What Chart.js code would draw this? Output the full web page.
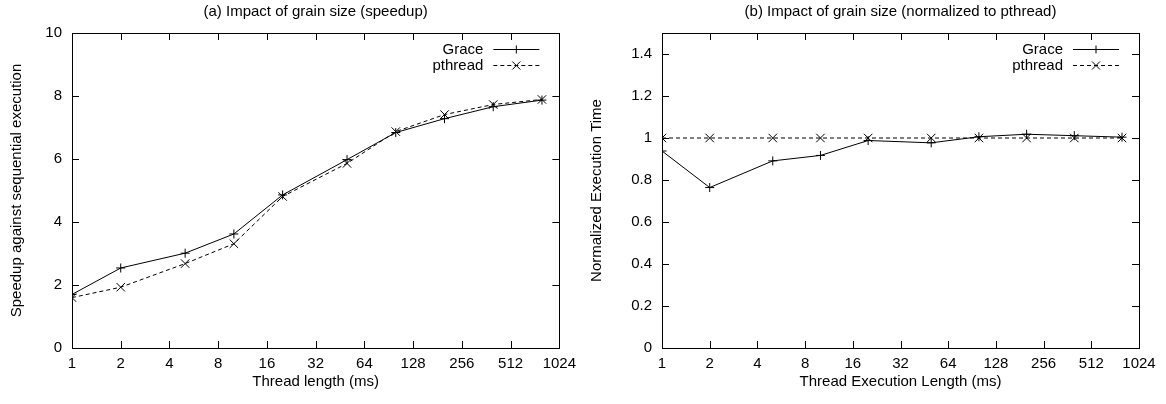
<!DOCTYPE html>
<html>
<head>
<meta charset="utf-8">
<script src="https://cdn.jsdelivr.net/npm/chart.js@4.4.0/dist/chart.umd.min.js"></script>
<style>
  html, body { margin: 0; padding: 0; background: #fff; }
  .wrap { display: flex; width: 1166px; height: 404px; }
  .box { position: relative; width: 583px; height: 404px; }
</style>
</head>
<body>
<div class="wrap">
  <div class="box"><canvas id="chart_speedup"></canvas></div>
  <div class="box"><canvas id="chart_norm"></canvas></div>
</div>
<script>
// データ
const threadLength = [1, 2, 5, 10, 20, 50, 100, 200, 400, 800];
const xTicks = [1, 2, 4, 8, 16, 32, 64, 128, 256, 512, 1024];

const speedupGrace   = [1.70, 2.54, 3.01, 3.62, 4.86, 5.98, 6.84, 7.28, 7.66, 7.87];
const speedupPthread = [1.60, 1.93, 2.68, 3.31, 4.81, 5.86, 6.87, 7.41, 7.73, 7.89];

const normGrace   = [0.938, 0.764, 0.891, 0.917, 0.988, 0.977, 1.006, 1.018, 1.011, 1.004];
const normPthread = [1, 1, 1, 1, 1, 1, 1, 1, 1, 1];

const speedupTicks = [0, 2, 4, 6, 8, 10];
const normTicks = [0, 0.2, 0.4, 0.6, 0.8, 1, 1.2, 1.4];

const FONT = "'Liberation Sans', Arial, Helvetica, sans-serif";
Chart.defaults.font.family = FONT;
Chart.defaults.font.size = 15;
Chart.defaults.color = '#000';

function pts(ys) {
    return threadLength.map((x, i) => ({x: x, y: ys[i]}));
}

// gnuplot風の枠・内向き目盛・凡例・タイトル
function gnuplotFrame(title) {
    return {
        id: 'gnuplotFrame',
        afterDraw(chart) {
            const ctx = chart.ctx;
            const a = chart.chartArea;
            const sx = chart.scales.x, sy = chart.scales.y;
            const tl = 7;
            ctx.save();
            ctx.strokeStyle = '#000';
            ctx.lineWidth = 1;
            ctx.beginPath();
            sx.ticks.forEach(t => {
                const px = Math.round(sx.getPixelForValue(t.value)) + 0.5;
                if (px <= a.left + 1 || px >= a.right - 1) return;
                ctx.moveTo(px, a.bottom); ctx.lineTo(px, a.bottom - tl);
                ctx.moveTo(px, a.top); ctx.lineTo(px, a.top + tl);
            });
            sy.ticks.forEach(t => {
                const py = Math.round(sy.getPixelForValue(t.value)) + 0.5;
                if (py <= a.top + 1 || py >= a.bottom - 1) return;
                ctx.moveTo(a.left, py); ctx.lineTo(a.left + tl, py);
                ctx.moveTo(a.right, py); ctx.lineTo(a.right - tl, py);
            });
            ctx.stroke();
            ctx.strokeRect(Math.round(a.left) + 0.5, Math.round(a.top) + 0.5,
                Math.round(a.right - a.left), Math.round(a.bottom - a.top));

            // タイトル
            ctx.font = '15px ' + FONT;
            ctx.fillStyle = '#000';
            ctx.textAlign = 'center';
            ctx.textBaseline = 'middle';
            ctx.fillText(title, (a.left + a.right) / 2, 12);

            // 凡例
            chart.data.datasets.forEach((ds, i) => {
                const y = Math.round(a.top + 16 + i * 16) + 0.5;
                ctx.textAlign = 'right';
                ctx.fillText(ds.label, a.right - 76, y);
                const x0 = a.right - 66, x1 = a.right - 20, xm = (x0 + x1) / 2;
                ctx.setLineDash(ds.borderDash || []);
                ctx.beginPath();
                ctx.moveTo(x0, y); ctx.lineTo(x1, y);
                ctx.stroke();
                ctx.setLineDash([]);
                ctx.beginPath();
                if (ds.pointStyle === 'cross') {
                    ctx.moveTo(xm - 4, y); ctx.lineTo(xm + 4, y);
                    ctx.moveTo(xm, y - 4); ctx.lineTo(xm, y + 4);
                } else {
                    ctx.moveTo(xm - 4, y - 4); ctx.lineTo(xm + 4, y + 4);
                    ctx.moveTo(xm - 4, y + 4); ctx.lineTo(xm + 4, y - 4);
                }
                ctx.stroke();
            });
            ctx.restore();
        }
    };
}

function makeChart(canvasId, opt) {
    const ctx = document.getElementById(canvasId);
    return new Chart(ctx, {
        type: 'line',
        data: {
            datasets: [
                {
                    label: 'Grace',
                    data: pts(opt.grace),
                    borderColor: '#000',
                    borderWidth: 1,
                    pointStyle: 'cross',
                    pointRadius: 4.5,
                    pointBorderColor: '#000',
                    pointBorderWidth: 1,
                    fill: false,
                    tension: 0
                }, {
                    label: 'pthread',
                    data: pts(opt.pthread),
                    borderColor: '#000',
                    borderWidth: 1,
                    borderDash: [4, 3],
                    pointStyle: 'crossRot',
                    pointRadius: 6,
                    pointBorderColor: '#000',
                    pointBorderWidth: 1,
                    fill: false,
                    tension: 0
                }
            ]
        },
        options: {
            responsive: false,
            animation: false,
            layout: {
                padding: { top: 33, right: opt.padRight, bottom: 0, left: 0 }
            },
            plugins: {
                legend: { display: false },
                tooltip: { enabled: false },
                title: { display: false }
            },
            scales: {
                x: {
                    type: 'logarithmic',
                    min: 1,
                    max: 1024,
                    afterBuildTicks(scale) {
                        scale.ticks = xTicks.map(v => ({value: v}));
                    },
                    afterFit(scale) { scale.height = 56; },
                    grid: { display: false, drawTicks: false },
                    border: { display: false },
                    ticks: {
                        autoSkip: false,
                        maxRotation: 0,
                        padding: 7,
                        callback: (v) => String(v)
                    },
                    title: {
                        display: true,
                        text: opt.xTitle,
                        padding: { top: 0, bottom: 13 }
                    }
                },
                y: {
                    min: opt.yMin,
                    max: opt.yMax,
                    afterBuildTicks(scale) {
                        scale.ticks = opt.yTicks.map(v => ({value: v}));
                    },
                    afterFit(scale) { scale.width = opt.yWidth; },
                    grid: { display: false, drawTicks: false },
                    border: { display: false },
                    ticks: {
                        padding: 10,
                        callback: (v) => String(v)
                    },
                    title: {
                        display: true,
                        text: opt.yTitle,
                        padding: { top: opt.yTitlePad, bottom: 0 }
                    }
                }
            }
        },
        plugins: [gnuplotFrame(opt.title)]
    });
}

const c1 = document.getElementById('chart_speedup');
c1.width = 583; c1.height = 404;
const c2 = document.getElementById('chart_norm');
c2.width = 583; c2.height = 404;

makeChart('chart_speedup', {
    grace: speedupGrace,
    pthread: speedupPthread,
    yMin: 0, yMax: 10,
    yTicks: speedupTicks,
    yWidth: 72,
    padRight: 23,
    yTitlePad: 8,
    title: '(a) Impact of grain size (speedup)',
    xTitle: 'Thread length (ms)',
    yTitle: 'Speedup against sequential execution'
});

makeChart('chart_norm', {
    grace: normGrace,
    pthread: normPthread,
    yMin: 0, yMax: 1.5,
    yTicks: normTicks,
    yWidth: 79,
    padRight: 27,
    yTitlePad: 5,
    title: '(b) Impact of grain size (normalized to pthread)',
    xTitle: 'Thread Execution Length (ms)',
    yTitle: 'Normalized Execution Time'
});
</script>
</body>
</html>
